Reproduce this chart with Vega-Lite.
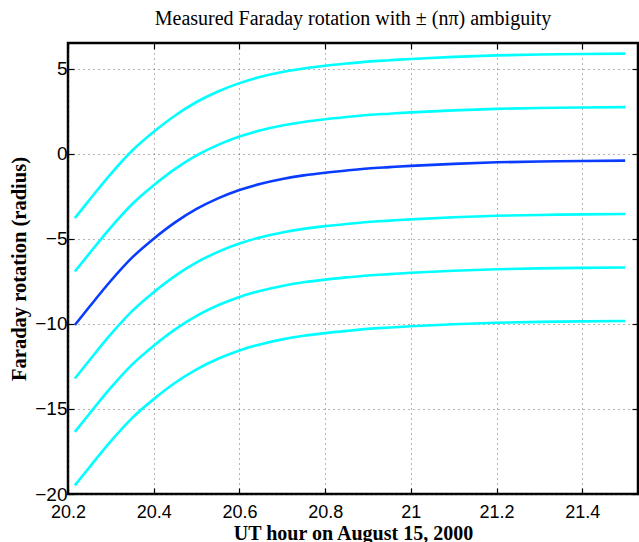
{
  "$schema": "https://vega.github.io/schema/vega-lite/v6.json",
  "width": 570,
  "height": 451,
  "autosize": {"type": "none"},
  "padding": {"left": 68, "top": 43, "right": 1, "bottom": 48},
  "background": "white",
  "config": {
    "view": {"stroke": "black", "strokeWidth": 2.5},
    "axis": {
      "labelFont": "Liberation Sans",
      "labelFontSize": 18,
      "labelColor": "black",
      "labelFlush": false,
      "labelOverlap": false,
      "titleFont": "Liberation Serif",
      "titleFontSize": 20,
      "titleFontWeight": "bold",
      "titleColor": "black",
      "domain": false,
      "tickColor": "black",
      "tickWidth": 1.2,
      "gridColor": "#444",
      "gridDash": [1, 4],
      "gridWidth": 1,
      "gridOpacity": 0.8
    }
  },
  "title": {
    "text": "Measured Faraday rotation with ± (nπ) ambiguity",
    "font": "Liberation Serif",
    "fontSize": 20,
    "fontWeight": "normal",
    "color": "black",
    "anchor": "middle",
    "offset": 13
  },
  "data": {
    "values": [
      {"t": 20.216, "v": -3.787, "s": "p2"}, {"t": 20.25, "v": -2.717, "s": "p2"}, {"t": 20.3, "v": -1.187, "s": "p2"}, {"t": 20.35, "v": 0.183, "s": "p2"}, {"t": 20.4, "v": 1.283, "s": "p2"}, {"t": 20.45, "v": 2.243, "s": "p2"}, {"t": 20.5, "v": 3.033, "s": "p2"}, {"t": 20.55, "v": 3.653, "s": "p2"}, {"t": 20.6, "v": 4.143, "s": "p2"}, {"t": 20.65, "v": 4.513, "s": "p2"}, {"t": 20.7, "v": 4.793, "s": "p2"}, {"t": 20.75, "v": 5.003, "s": "p2"}, {"t": 20.8, "v": 5.163, "s": "p2"}, {"t": 20.85, "v": 5.293, "s": "p2"}, {"t": 20.9, "v": 5.408, "s": "p2"}, {"t": 20.95, "v": 5.488, "s": "p2"}, {"t": 21.0, "v": 5.563, "s": "p2"}, {"t": 21.1, "v": 5.683, "s": "p2"}, {"t": 21.2, "v": 5.773, "s": "p2"}, {"t": 21.3, "v": 5.823, "s": "p2"}, {"t": 21.4, "v": 5.853, "s": "p2"}, {"t": 21.5, "v": 5.873, "s": "p2"},
      {"t": 20.216, "v": -6.928, "s": "p1"}, {"t": 20.25, "v": -5.858, "s": "p1"}, {"t": 20.3, "v": -4.328, "s": "p1"}, {"t": 20.35, "v": -2.958, "s": "p1"}, {"t": 20.4, "v": -1.858, "s": "p1"}, {"t": 20.45, "v": -0.898, "s": "p1"}, {"t": 20.5, "v": -0.108, "s": "p1"}, {"t": 20.55, "v": 0.512, "s": "p1"}, {"t": 20.6, "v": 1.002, "s": "p1"}, {"t": 20.65, "v": 1.372, "s": "p1"}, {"t": 20.7, "v": 1.652, "s": "p1"}, {"t": 20.75, "v": 1.862, "s": "p1"}, {"t": 20.8, "v": 2.022, "s": "p1"}, {"t": 20.85, "v": 2.152, "s": "p1"}, {"t": 20.9, "v": 2.267, "s": "p1"}, {"t": 20.95, "v": 2.347, "s": "p1"}, {"t": 21.0, "v": 2.422, "s": "p1"}, {"t": 21.1, "v": 2.542, "s": "p1"}, {"t": 21.2, "v": 2.632, "s": "p1"}, {"t": 21.3, "v": 2.682, "s": "p1"}, {"t": 21.4, "v": 2.712, "s": "p1"}, {"t": 21.5, "v": 2.732, "s": "p1"},
      {"t": 20.216, "v": -13.212, "s": "n1"}, {"t": 20.25, "v": -12.142, "s": "n1"}, {"t": 20.3, "v": -10.612, "s": "n1"}, {"t": 20.35, "v": -9.242, "s": "n1"}, {"t": 20.4, "v": -8.142, "s": "n1"}, {"t": 20.45, "v": -7.182, "s": "n1"}, {"t": 20.5, "v": -6.392, "s": "n1"}, {"t": 20.55, "v": -5.772, "s": "n1"}, {"t": 20.6, "v": -5.282, "s": "n1"}, {"t": 20.65, "v": -4.912, "s": "n1"}, {"t": 20.7, "v": -4.632, "s": "n1"}, {"t": 20.75, "v": -4.422, "s": "n1"}, {"t": 20.8, "v": -4.262, "s": "n1"}, {"t": 20.85, "v": -4.132, "s": "n1"}, {"t": 20.9, "v": -4.017, "s": "n1"}, {"t": 20.95, "v": -3.937, "s": "n1"}, {"t": 21.0, "v": -3.862, "s": "n1"}, {"t": 21.1, "v": -3.742, "s": "n1"}, {"t": 21.2, "v": -3.652, "s": "n1"}, {"t": 21.3, "v": -3.602, "s": "n1"}, {"t": 21.4, "v": -3.572, "s": "n1"}, {"t": 21.5, "v": -3.552, "s": "n1"},
      {"t": 20.216, "v": -16.353, "s": "n2"}, {"t": 20.25, "v": -15.283, "s": "n2"}, {"t": 20.3, "v": -13.753, "s": "n2"}, {"t": 20.35, "v": -12.383, "s": "n2"}, {"t": 20.4, "v": -11.283, "s": "n2"}, {"t": 20.45, "v": -10.323, "s": "n2"}, {"t": 20.5, "v": -9.533, "s": "n2"}, {"t": 20.55, "v": -8.913, "s": "n2"}, {"t": 20.6, "v": -8.423, "s": "n2"}, {"t": 20.65, "v": -8.053, "s": "n2"}, {"t": 20.7, "v": -7.773, "s": "n2"}, {"t": 20.75, "v": -7.563, "s": "n2"}, {"t": 20.8, "v": -7.403, "s": "n2"}, {"t": 20.85, "v": -7.273, "s": "n2"}, {"t": 20.9, "v": -7.158, "s": "n2"}, {"t": 20.95, "v": -7.078, "s": "n2"}, {"t": 21.0, "v": -7.003, "s": "n2"}, {"t": 21.1, "v": -6.883, "s": "n2"}, {"t": 21.2, "v": -6.793, "s": "n2"}, {"t": 21.3, "v": -6.743, "s": "n2"}, {"t": 21.4, "v": -6.713, "s": "n2"}, {"t": 21.5, "v": -6.693, "s": "n2"},
      {"t": 20.216, "v": -19.495, "s": "n3"}, {"t": 20.25, "v": -18.425, "s": "n3"}, {"t": 20.3, "v": -16.895, "s": "n3"}, {"t": 20.35, "v": -15.525, "s": "n3"}, {"t": 20.4, "v": -14.425, "s": "n3"}, {"t": 20.45, "v": -13.465, "s": "n3"}, {"t": 20.5, "v": -12.675, "s": "n3"}, {"t": 20.55, "v": -12.055, "s": "n3"}, {"t": 20.6, "v": -11.565, "s": "n3"}, {"t": 20.65, "v": -11.195, "s": "n3"}, {"t": 20.7, "v": -10.915, "s": "n3"}, {"t": 20.75, "v": -10.705, "s": "n3"}, {"t": 20.8, "v": -10.545, "s": "n3"}, {"t": 20.85, "v": -10.415, "s": "n3"}, {"t": 20.9, "v": -10.3, "s": "n3"}, {"t": 20.95, "v": -10.22, "s": "n3"}, {"t": 21.0, "v": -10.145, "s": "n3"}, {"t": 21.1, "v": -10.025, "s": "n3"}, {"t": 21.2, "v": -9.935, "s": "n3"}, {"t": 21.3, "v": -9.885, "s": "n3"}, {"t": 21.4, "v": -9.855, "s": "n3"}, {"t": 21.5, "v": -9.835, "s": "n3"},
      {"t": 20.216, "v": -10.07, "s": "m0"}, {"t": 20.25, "v": -9.0, "s": "m0"}, {"t": 20.3, "v": -7.47, "s": "m0"}, {"t": 20.35, "v": -6.1, "s": "m0"}, {"t": 20.4, "v": -5.0, "s": "m0"}, {"t": 20.45, "v": -4.04, "s": "m0"}, {"t": 20.5, "v": -3.25, "s": "m0"}, {"t": 20.55, "v": -2.63, "s": "m0"}, {"t": 20.6, "v": -2.14, "s": "m0"}, {"t": 20.65, "v": -1.77, "s": "m0"}, {"t": 20.7, "v": -1.49, "s": "m0"}, {"t": 20.75, "v": -1.28, "s": "m0"}, {"t": 20.8, "v": -1.12, "s": "m0"}, {"t": 20.85, "v": -0.99, "s": "m0"}, {"t": 20.9, "v": -0.875, "s": "m0"}, {"t": 20.95, "v": -0.795, "s": "m0"}, {"t": 21.0, "v": -0.72, "s": "m0"}, {"t": 21.1, "v": -0.6, "s": "m0"}, {"t": 21.2, "v": -0.51, "s": "m0"}, {"t": 21.3, "v": -0.46, "s": "m0"}, {"t": 21.4, "v": -0.43, "s": "m0"}, {"t": 21.5, "v": -0.41, "s": "m0"}
    ]
  },
  "resolve": {"axis": {"x": "independent", "y": "independent"}},
  "layer": [
    {
      "mark": {"type": "line", "interpolate": "monotone", "clip": true},
      "encoding": {
        "x": {
          "field": "t", "type": "quantitative",
          "scale": {"domain": [20.2, 21.53], "nice": false, "zero": false},
          "axis": {
            "orient": "bottom",
            "title": "UT hour on August 15, 2000",
            "values": [20.2, 20.4, 20.6, 20.8, 21, 21.2, 21.4],
            "format": "~f",
            "tickSize": -6,
            "labelPadding": 15,
            "titlePadding": 2,
            "grid": true
          }
        },
        "y": {
          "field": "v", "type": "quantitative",
          "scale": {"domain": [-20, 6.5], "nice": false, "zero": false},
          "axis": {
            "orient": "left",
            "title": "Faraday rotation (radius)",
            "titleFontSize": 20.5,
            "labelFontSize": 19,
            "values": [-20, -15, -10, -5, 0, 5],
            "tickSize": -6,
            "labelPadding": 7,
            "titlePadding": 5,
            "grid": true
          }
        },
        "detail": {"field": "s"},
        "color": {
          "field": "s", "type": "nominal", "legend": null,
          "scale": {"domain": ["p2", "p1", "n1", "n2", "n3", "m0"], "range": ["#00ffff", "#00ffff", "#00ffff", "#00ffff", "#00ffff", "#0a3cff"]}
        },
        "strokeWidth": {
          "field": "s", "type": "nominal", "legend": null,
          "scale": {"domain": ["p2", "p1", "n1", "n2", "n3", "m0"], "range": [2.6, 2.6, 2.6, 2.6, 2.6, 4.2]}
        }
      }
    },
    {
      "mark": {"type": "line", "opacity": 0},
      "encoding": {
        "x": {
          "field": "t", "type": "quantitative",
          "axis": {"orient": "top", "title": null, "labels": false, "grid": false, "values": [20.2, 20.4, 20.6, 20.8, 21, 21.2, 21.4], "tickSize": -6}
        },
        "y": {
          "field": "v", "type": "quantitative",
          "axis": {"orient": "right", "title": null, "labels": false, "grid": false, "values": [-20, -15, -10, -5, 0, 5], "tickSize": -6}
        },
        "detail": {"field": "s"}
      }
    }
  ]
}
